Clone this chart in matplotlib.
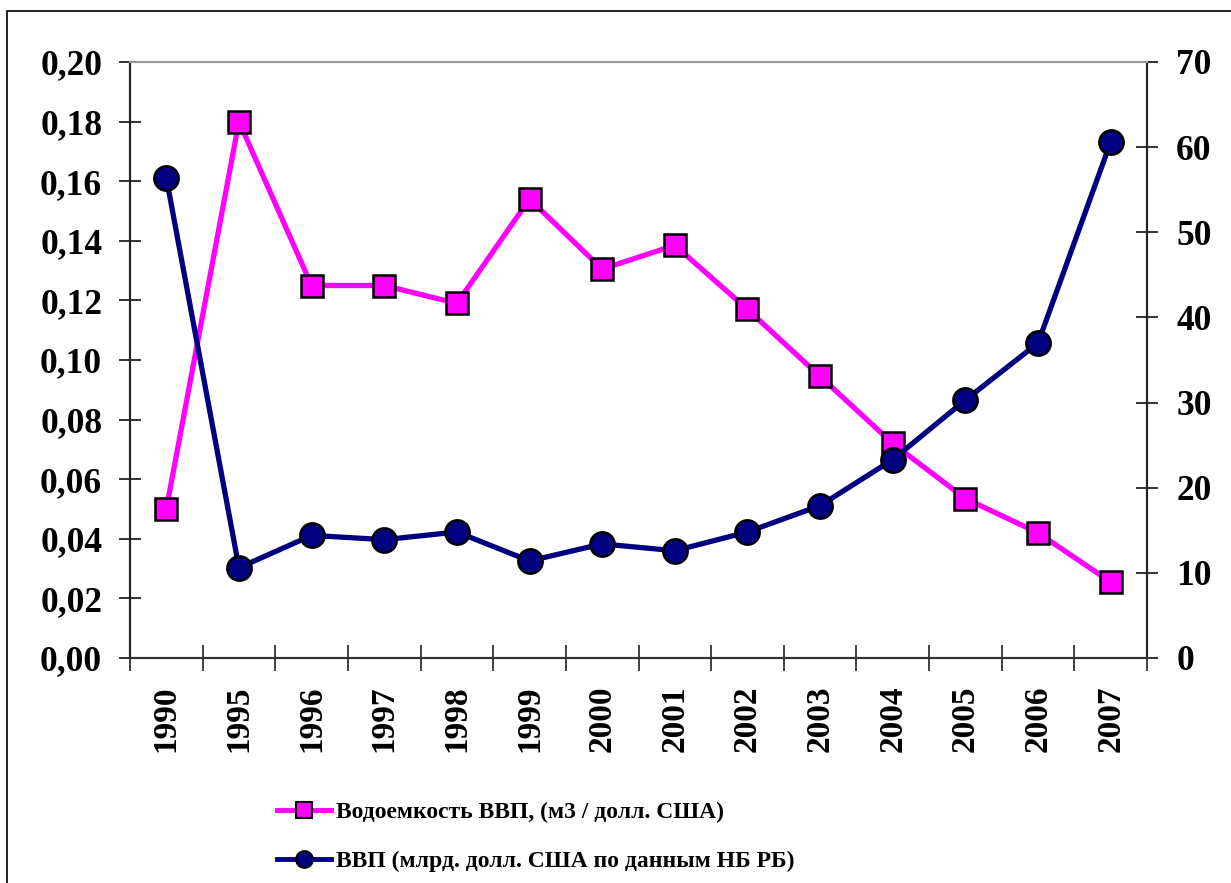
import numpy as np
import matplotlib
matplotlib.use("Agg")
import matplotlib.pyplot as plt
from matplotlib.lines import Line2D
from matplotlib.patches import Rectangle

plt.rcParams['font.family'] = ['Liberation Serif', 'DejaVu Serif']
plt.rcParams['font.weight'] = 'bold'

# years and both series
years = ['1990', '1995', '1996', '1997', '1998', '1999', '2000',
         '2001', '2002', '2003', '2004', '2005', '2006', '2007']
water_intensity = [0.050, 0.180, 0.125, 0.125, 0.119, 0.154, 0.1305,
                   0.1385, 0.117, 0.0945, 0.072, 0.0535, 0.042, 0.0255]
gdp = [56.4, 10.6, 14.4, 13.9, 14.8, 11.4, 13.4,
       12.6, 14.8, 17.9, 23.3, 30.3, 37.0, 60.6]

left_ticks = [0.00, 0.02, 0.04, 0.06, 0.08, 0.10, 0.12, 0.14, 0.16, 0.18, 0.20]
left_labels = ['0,00', '0,02', '0,04', '0,06', '0,08', '0,10',
               '0,12', '0,14', '0,16', '0,18', '0,20']
right_ticks = [0, 10, 20, 30, 40, 50, 60, 70]

label_water = 'Водоемкость ВВП, (м3 / долл. США)'
label_gdp = 'ВВП (млрд. долл. США по данным НБ РБ)'

MAGENTA = '#FF00FF'
NAVY = '#000080'

fig = plt.figure(figsize=(12.31, 8.83), dpi=100)
ax = fig.add_axes([130 / 1231, 1 - 658 / 883, 1017 / 1231, 596 / 883])
ax2 = ax.twinx()

x = np.arange(len(years))

ax.plot(x, water_intensity, color=MAGENTA, lw=3.8, marker='s', ms=16,
        mfc=MAGENTA, mec='black', mew=1.8, zorder=3)
ax2.plot(x, gdp, color=NAVY, lw=3.8, marker='o', ms=17.5,
         mfc=NAVY, mec='black', mew=1.8, zorder=3)

ax.set_xlim(-0.5, len(years) - 0.5)
ax.set_ylim(0, 0.20)
ax2.set_ylim(0, 70)

# category labels in the middle, tick marks on the boundaries
ax.set_xticks(x)
ax.set_xticklabels(years, rotation=90, fontsize=24, fontweight='bold')
ax.set_xticks(np.arange(-0.5, len(years)), minor=True)
ax.tick_params(axis='x', which='major', length=0, pad=20)
ax.tick_params(axis='x', which='minor', direction='inout', length=19,
               width=1.3, color='#333333')

ax.set_yticks(left_ticks)
ax.set_yticklabels(left_labels, fontsize=25.5, fontweight='bold')
ax.tick_params(axis='y', direction='inout', length=16, width=1.3,
               color='#222222', pad=12)

ax2.set_yticks(right_ticks)
ax2.set_yticklabels([str(t) for t in right_ticks], fontsize=25.5, fontweight='bold')
ax2.tick_params(axis='y', direction='inout', length=16, width=1.3,
                color='#222222', pad=13)

for a in (ax, ax2):
    a.spines['top'].set_color('#999999')
    a.spines['top'].set_linewidth(1.5)
    a.spines['bottom'].set_color('#333333')
    a.spines['bottom'].set_linewidth(1.5)
    a.spines['left'].set_color('#222222')
    a.spines['left'].set_linewidth(1.5)
    a.spines['right'].set_color('#222222')
    a.spines['right'].set_linewidth(1.5)

handles = [
    Line2D([], [], color=MAGENTA, lw=3.5, marker='s', ms=11,
           mfc=MAGENTA, mec='black', mew=1.5),
    Line2D([], [], color=NAVY, lw=3.5, marker='o', ms=12,
           mfc=NAVY, mec='black', mew=1.5),
]
fig.legend(handles, [label_water, label_gdp], loc='upper left',
           bbox_to_anchor=(265 / 1231, 1 - 790 / 883), frameon=False,
           prop={'family': 'Liberation Serif', 'weight': 'bold', 'size': 17},
           handlelength=2.3, handletextpad=0.2, labelspacing=1.15,
           borderpad=0)

# outer chart border, running off the right and bottom edges
fig.add_artist(Rectangle((7 / 1231, -0.1), 1.2, 1.1 - 11 / 883,
                         transform=fig.transFigure, fill=False,
                         edgecolor='black', lw=1.2))

fig.savefig('out.png', dpi=100)
